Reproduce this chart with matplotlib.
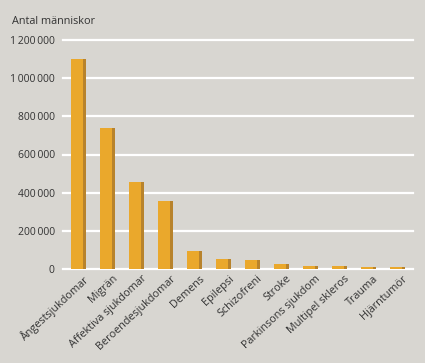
import matplotlib
matplotlib.use("Agg")
import matplotlib.pyplot as plt
from matplotlib.ticker import FuncFormatter
import matplotlib.transforms as mtransforms
import numpy as np

categories = ["Ångestsjukdomar", "Migrän", "Affektiva sjukdomar", "Beroendesjukdomar",
              "Demens", "Epilepsi", "Schizofreni", "Stroke", "Parkinsons sjukdom",
              "Multipel skleros", "Trauma", "Hjärntumör"]
values = [1100000, 740000, 455000, 355000, 95000, 50000, 47000, 25000, 17000, 18000, 13000, 10000]
yticks = [0, 200000, 400000, 600000, 800000, 1000000, 1200000]
ylabel = "Antal människor"

plt.rcParams['font.family'] = ['Open Sans', 'DejaVu Sans']
bg = "#d8d6d1"
fig = plt.figure(figsize=(4.25, 3.63), dpi=100, facecolor=bg)
ax = fig.add_axes([63/425, 94/363, 350/425, 229/363], facecolor=bg)

x = np.arange(len(categories))
w = 0.52
ax.bar(x, values, width=w, color="#eaa82c", zorder=3)
ax.bar(x + w/2 - 0.06, values, width=0.12, color="#b8832c", zorder=4)

ax.set_xlim(-0.534, len(categories) - 1 + 0.534)
ax.set_ylim(0, 1200000)
ax.set_yticks(yticks)
ax.yaxis.set_major_formatter(FuncFormatter(lambda v, p: f"{int(v):,}".replace(",", "\u2009")))
ax.grid(axis='y', color='white', linewidth=1.6, zorder=1)
for gl in ax.get_ygridlines():
    gl.set_clip_on(False)
for s in ax.spines.values():
    s.set_visible(False)
ax.tick_params(axis='y', length=0, pad=6, labelsize=7.5, labelcolor="#333333")
ax.tick_params(axis='x', length=0, pad=3)
ax.set_xticks(x)
ax.set_xticklabels(categories, rotation=43, ha='right', rotation_mode='anchor',
                   fontsize=7.8, color="#333333")
offset = mtransforms.ScaledTranslation(3.5/72, 0, fig.dpi_scale_trans)
for lab in ax.get_xticklabels():
    lab.set_transform(lab.get_transform() + offset)

fig.text(12/425, 1 - 22/363, ylabel, fontsize=7.8, color="#333333", va='center', ha='left')

fig.savefig("out.png", dpi=100, facecolor=bg)
